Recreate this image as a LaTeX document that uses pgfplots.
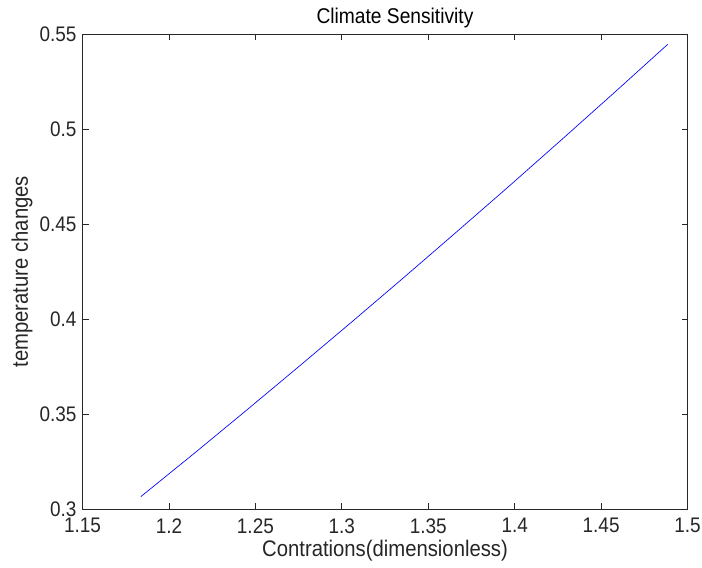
\documentclass[border=0pt]{standalone}
\usepackage{pgfplots}
\pgfplotsset{compat=1.18}
\usepackage{fontspec}
\setmainfont{Liberation Sans}[FakeStretch=0.9]
\definecolor{axgray}{RGB}{38,38,38}
\begin{document}
\begin{tikzpicture}
\begin{axis}[
  scale only axis,
  width=453.75pt, height=356pt,
  xmin=1.15, xmax=1.5, ymin=0.3, ymax=0.55,
  xtick={1.15,1.2,1.25,1.3,1.35,1.4,1.45,1.5},
  ytick={0.3,0.35,0.4,0.45,0.5,0.55},
  xticklabels={1.15,1.2,1.25,1.3,1.35,1.4,1.45,1.5},
  yticklabels={0.3,0.35,0.4,0.45,0.5,0.55},
  tick align=inside,
  major tick length=4.5pt,
  axis line style={axgray, line width=0.6pt},
  every tick/.style={axgray, line width=0.6pt},
  tick label style={font=\fontsize{15.8}{18}\selectfont, text=axgray},
  xticklabel style={yshift=-3.5pt},
  yticklabel style={xshift=-1pt},
  xlabel={Contrations(dimensionless)},
  ylabel={temperature changes},
  title={Climate Sensitivity},
  label style={font=\fontsize{16.9}{19}\selectfont, text=axgray},
  xlabel style={at={(axis description cs:0.5,-0.0885)}, anchor=center},
  ylabel style={at={(axis description cs:-0.1,0.5)}, anchor=center, rotate=0},
  title style={at={(axis description cs:0.5165,1.017)}, anchor=center, font=\fontsize{16}{19}\selectfont, text=black},
]
\addplot[blue, line width=0.5pt] coordinates {
(1.1837,0.3065)
(1.2142,0.3290)
(1.2447,0.3519)
(1.2751,0.3750)
(1.3056,0.3984)
(1.3361,0.4221)
(1.3666,0.4461)
(1.3971,0.4703)
(1.4275,0.4948)
(1.4580,0.5196)
(1.4885,0.5447)
};
\end{axis}
\pgfresetboundingbox
\path ([xshift=-61.9pt,yshift=-43.5pt]current axis.south west) rectangle ++(526.5pt,425.25pt);
\end{tikzpicture}
\end{document}
